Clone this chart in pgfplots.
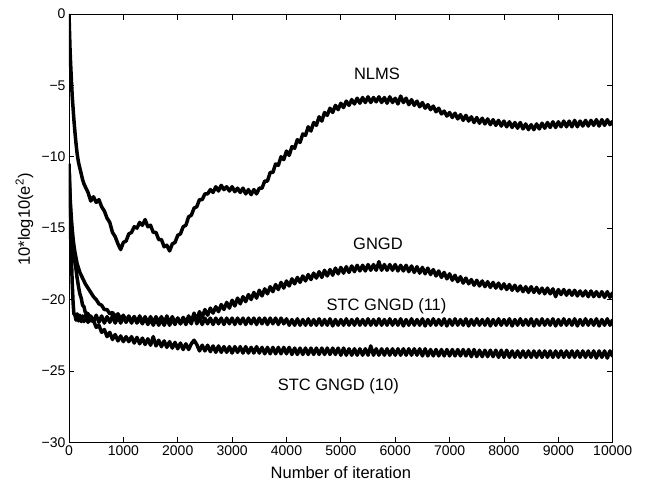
\documentclass[border=0pt]{standalone}
\usepackage{pgfplots}
\pgfplotsset{compat=1.18}
\usepackage{pgfplotstable}
\usepackage{fontspec}
\setmainfont{Liberation Sans}

% learning curves: x, NLMS, GNGD, STC GNGD (11), STC GNGD (10)
\pgfplotstableread{
x n g s11 s10
0 0 -10.5 -10.5 -10.5
10 -1.3 -11.8 -12.3 -12.0
20 -2.6 -12.8 -14.0 -13.2
30 -3.5 -13.5 -15.5 -14.1
45 -4.7 -14.4 -17.2 -15.1
60 -5.8 -15.1 -18.9 -15.9
75 -6.6 -15.7 -20.2 -16.5
90 -7.4 -16.2 -21.0 -17.0
110 -8.3 -16.7 -21.1 -17.4
130 -9.1 -17.1 -21.45 -17.9
150 -9.8 -17.5 -21.0 -18.5
175 -10.4 -17.8 -21.5 -19.1
200 -10.8 -18.1 -21.1 -19.6
225 -11.2 -18.3 -21.55 -19.9
250 -11.6 -18.5 -21.15 -20.4
275 -11.9 -18.7 -21.55 -20.5
300 -12.1 -18.9 -21.1 -20.9
350 -12.5 -19.2 -21.6 -21.0
400 -13.1 -19.5 -21.15 -21.5
450 -12.8 -19.8 -21.55 -21.45
500 -13.2 -20.0 -21.1 -21.95
550 -13.0 -20.3 -21.6 -21.8
600 -13.5 -20.4 -21.15 -22.3
650 -13.8 -20.7 -21.65 -22.1
700 -14.3 -20.7 -21.2 -22.6
750 -14.6 -21.0 -21.6 -22.3
800 -15.3 -20.9 -21.15 -22.8
850 -15.6 -21.2 -21.65 -22.45
900 -16.1 -21.0 -21.2 -22.9
950 -16.5 -21.35 -21.65 -22.55
1000 -16.0 -21.1 -21.2 -22.95
1050 -15.9 -21.5 -21.6 -22.6
1100 -15.4 -21.15 -21.2 -22.95
1150 -15.3 -21.55 -21.65 -22.6
1200 -14.9 -21.2 -21.2 -23.05
1250 -15.0 -21.65 -21.6 -22.65
1300 -14.6 -21.3 -21.15 -23.1
1350 -14.8 -21.7 -21.6 -22.7
1400 -14.4 -21.3 -21.2 -23.15
1450 -14.9 -21.75 -21.65 -22.75
1500 -14.8 -21.35 -21.2 -23.2
1550 -15.3 -21.8 -21.65 -22.6
1600 -15.3 -21.35 -21.2 -23.25
1650 -15.8 -21.8 -21.6 -22.85
1700 -15.8 -21.4 -21.2 -23.3
1750 -16.3 -21.8 -21.65 -22.9
1800 -16.2 -21.35 -21.15 -23.35
1850 -16.6 -21.8 -21.65 -22.95
1900 -16.1 -21.35 -21.2 -23.4
1950 -16.0 -21.75 -21.65 -23.0
2000 -15.5 -21.3 -21.3 -23.45
2050 -15.4 -21.7 -21.7 -23.05
2100 -14.9 -21.25 -21.3 -23.5
2150 -14.8 -21.65 -21.75 -23.1
2200 -14.2 -21.15 -21.3 -23.5
2250 -14.1 -21.55 -21.7 -23.1
2300 -13.6 -21.0 -20.95 -22.85
2350 -13.5 -21.4 -21.7 -23.15
2400 -13.0 -20.85 -21.3 -23.6
2450 -13.0 -21.25 -21.75 -23.2
2500 -12.6 -20.7 -21.3 -23.6
2550 -12.6 -21.1 -21.7 -23.2
2600 -12.3 -20.6 -21.3 -23.65
2650 -12.5 -20.95 -21.75 -23.25
2700 -12.1 -20.5 -21.3 -23.7
2750 -12.4 -20.85 -21.7 -23.25
2800 -12.0 -20.35 -21.3 -23.7
2850 -12.3 -20.7 -21.75 -23.3
2900 -12.1 -20.2 -21.3 -23.7
2950 -12.4 -20.6 -21.7 -23.3
3000 -12.1 -20.05 -21.3 -23.75
3050 -12.45 -20.45 -21.75 -23.3
3100 -12.2 -19.9 -21.3 -23.7
3150 -12.5 -20.3 -21.7 -23.3
3200 -12.2 -19.8 -21.3 -23.75
3250 -12.6 -20.15 -21.75 -23.3
3300 -12.3 -19.65 -21.3 -23.75
3350 -12.65 -20.0 -21.7 -23.35
3400 -12.3 -19.5 -21.3 -23.75
3450 -12.6 -19.9 -21.75 -23.3
3500 -12.2 -19.35 -21.3 -23.75
3550 -12.2 -19.75 -21.7 -23.35
3600 -11.7 -19.25 -21.3 -23.8
3650 -11.7 -19.6 -21.75 -23.35
3700 -11.1 -19.1 -21.3 -23.8
3750 -11.1 -19.45 -21.7 -23.35
3800 -10.5 -18.95 -21.3 -23.8
3850 -10.6 -19.3 -21.75 -23.35
3900 -10.0 -18.8 -21.3 -23.8
3950 -10.2 -19.2 -21.7 -23.35
4000 -9.6 -18.7 -21.35 -23.8
4050 -9.9 -19.05 -21.8 -23.35
4100 -9.3 -18.55 -21.4 -23.85
4150 -9.4 -18.9 -21.8 -23.4
4200 -8.8 -18.45 -21.35 -23.85
4250 -9.0 -18.8 -21.8 -23.4
4300 -8.4 -18.35 -21.4 -23.85
4350 -8.5 -18.7 -21.8 -23.4
4400 -7.9 -18.25 -21.35 -23.85
4450 -8.2 -18.6 -21.8 -23.4
4500 -7.6 -18.15 -21.4 -23.85
4550 -7.8 -18.5 -21.8 -23.4
4600 -7.2 -18.05 -21.35 -23.85
4650 -7.5 -18.45 -21.8 -23.4
4700 -6.9 -17.95 -21.4 -23.85
4750 -7.1 -18.35 -21.8 -23.4
4800 -6.6 -17.9 -21.35 -23.85
4850 -6.9 -18.3 -21.85 -23.4
4900 -6.4 -17.8 -21.4 -23.85
4950 -6.7 -18.2 -21.8 -23.4
5000 -6.25 -17.75 -21.4 -23.9
5050 -6.55 -18.15 -21.8 -23.4
5100 -6.1 -17.7 -21.35 -23.9
5150 -6.4 -18.1 -21.8 -23.45
5200 -6.0 -17.65 -21.4 -23.9
5250 -6.3 -18.05 -21.8 -23.45
5300 -5.9 -17.6 -21.35 -23.9
5350 -6.25 -18.0 -21.8 -23.45
5400 -5.85 -17.6 -21.4 -23.9
5450 -6.2 -18.0 -21.8 -23.45
5500 -5.8 -17.55 -21.35 -23.9
5550 -6.2 -17.95 -21.8 -23.25
5600 -5.85 -17.55 -21.4 -23.9
5650 -6.15 -17.95 -21.8 -23.45
5700 -5.8 -17.35 -21.35 -23.9
5750 -6.2 -17.95 -21.8 -23.45
5800 -5.85 -17.55 -21.4 -23.9
5850 -6.25 -17.95 -21.8 -23.45
5900 -5.8 -17.55 -21.35 -23.9
5950 -6.2 -17.95 -21.8 -23.45
6000 -5.9 -17.55 -21.4 -23.9
6050 -6.3 -18.0 -21.8 -23.45
6100 -5.75 -17.6 -21.35 -23.9
6150 -6.2 -18.0 -21.85 -23.45
6200 -5.9 -17.6 -21.4 -23.9
6250 -6.35 -18.05 -21.8 -23.45
6300 -6.0 -17.65 -21.35 -23.9
6350 -6.4 -18.1 -21.8 -23.45
6400 -6.1 -17.7 -21.4 -23.9
6450 -6.5 -18.15 -21.8 -23.45
6500 -6.2 -17.75 -21.35 -23.95
6550 -6.6 -18.2 -21.85 -23.45
6600 -6.35 -17.8 -21.4 -23.95
6650 -6.7 -18.25 -21.8 -23.5
6700 -6.45 -17.9 -21.35 -23.95
6750 -6.85 -18.35 -21.8 -23.5
6800 -6.6 -18.0 -21.4 -23.95
6850 -7.0 -18.45 -21.8 -23.5
6900 -6.8 -18.1 -21.35 -23.95
6950 -7.15 -18.55 -21.85 -23.5
7000 -6.9 -18.2 -21.4 -23.95
7050 -7.25 -18.65 -21.8 -23.5
7100 -6.95 -18.3 -21.35 -23.95
7150 -7.35 -18.75 -21.8 -23.5
7200 -7.05 -18.4 -21.4 -23.95
7250 -7.45 -18.85 -21.8 -23.5
7300 -7.1 -18.5 -21.35 -23.95
7350 -7.5 -18.9 -21.85 -23.5
7400 -7.2 -18.6 -21.4 -24.0
7450 -7.6 -19.0 -21.8 -23.5
7500 -7.25 -18.65 -21.35 -24.0
7550 -7.65 -19.05 -21.8 -23.55
7600 -7.3 -18.7 -21.4 -24.0
7650 -7.7 -19.1 -21.8 -23.55
7700 -7.35 -18.75 -21.35 -24.0
7750 -7.75 -19.15 -21.85 -23.55
7800 -7.4 -18.8 -21.4 -24.0
7850 -7.8 -19.2 -21.8 -23.55
7900 -7.45 -18.85 -21.35 -24.05
7950 -7.85 -19.25 -21.8 -23.55
8000 -7.5 -18.9 -21.4 -24.05
8050 -7.9 -19.3 -21.8 -23.55
8100 -7.55 -18.95 -21.35 -24.05
8150 -7.95 -19.35 -21.85 -23.6
8200 -7.6 -19.0 -21.4 -24.05
8250 -8.0 -19.4 -21.8 -23.6
8300 -7.6 -19.05 -21.35 -24.05
8350 -8.05 -19.45 -21.8 -23.6
8400 -7.7 -19.1 -21.4 -24.05
8450 -8.1 -19.5 -21.8 -23.6
8500 -7.75 -19.1 -21.35 -24.05
8550 -8.1 -19.5 -21.85 -23.6
8600 -7.7 -19.15 -21.4 -24.05
8650 -8.05 -19.55 -21.8 -23.6
8700 -7.65 -19.2 -21.35 -24.05
8750 -8.0 -19.6 -21.8 -23.6
8800 -7.6 -19.2 -21.4 -24.05
8850 -7.95 -19.6 -21.8 -23.6
8900 -7.55 -19.25 -21.35 -24.05
8950 -7.95 -19.8 -21.85 -23.6
9000 -7.55 -19.3 -21.4 -24.05
9050 -7.9 -19.65 -21.8 -23.6
9100 -7.5 -19.3 -21.35 -24.05
9150 -7.9 -19.7 -21.8 -23.6
9200 -7.5 -19.35 -21.4 -24.05
9250 -7.9 -19.7 -21.8 -23.6
9300 -7.45 -19.35 -21.35 -24.05
9350 -7.9 -19.75 -21.85 -23.6
9400 -7.5 -19.4 -21.4 -24.05
9450 -7.85 -19.75 -21.8 -23.6
9500 -7.45 -19.4 -21.35 -24.05
9550 -7.85 -19.8 -21.8 -23.6
9600 -7.45 -19.4 -21.4 -24.05
9650 -7.8 -19.8 -21.8 -23.6
9700 -7.4 -19.45 -21.35 -24.1
9750 -7.85 -19.8 -21.85 -23.6
9800 -7.4 -19.45 -21.4 -24.05
9850 -7.8 -19.85 -21.8 -23.6
9900 -7.4 -19.45 -21.35 -24.1
9950 -7.75 -19.85 -21.8 -23.6
10000 -7.5 -19.5 -21.4 -24.0
}\mse

\begin{document}
\begin{tikzpicture}
\begin{axis}[
    scale only axis,
    width=543.7pt,
    height=428.3pt,
    xmin=0, xmax=10000,
    ymin=-30, ymax=0,
    xtick={0,1000,2000,3000,4000,5000,6000,7000,8000,9000,10000},
    xticklabels={0,1000,2000,3000,4000,5000,6000,7000,8000,9000,10000},
    ytick={-30,-25,-20,-15,-10,-5,0},
    yticklabels={−30,−25,−20,−15,−10,−5,0},
    scaled ticks=false,
    tick align=inside,
    major tick length=5.5pt,
    axis line style={line width=0.8pt},
    every tick/.style={black, line width=0.8pt},
    tick label style={font=\fontsize{14}{16}\selectfont},
    label style={font=\fontsize{16.5}{19}\selectfont},
    xlabel={Number of iteration},
    ylabel={10*log10(e\textsuperscript{2})},
    xlabel style={at={(axis description cs:0.5,-0.07)}, anchor=center},
    ylabel style={at={(axis description cs:-0.082,0.52)}, anchor=center},
]
\addplot[black, no markers, line width=3.5pt, line join=round] table[x=x, y=n] {\mse};
\addplot[black, no markers, line width=3.5pt, line join=round] table[x=x, y=g] {\mse};
\addplot[black, no markers, line width=3.5pt, line join=round] table[x=x, y=s11] {\mse};
\addplot[black, no markers, line width=3.5pt, line join=round] table[x=x, y=s10] {\mse};
\node[font=\fontsize{16.5}{19}\selectfont] at (axis cs:5665,-4.2) {NLMS};
\node[font=\fontsize{16.5}{19}\selectfont] at (axis cs:5683,-16.1) {GNGD};
\node[font=\fontsize{16.5}{19}\selectfont] at (axis cs:5840,-20.5) {STC GNGD (11)};
\node[font=\fontsize{16.5}{19}\selectfont] at (axis cs:4953,-26.1) {STC GNGD (10)};
\end{axis}
\pgfresetboundingbox
\path[use as bounding box] (-69pt,-42.7pt) rectangle (577pt,442.3pt);
\end{tikzpicture}
\end{document}
